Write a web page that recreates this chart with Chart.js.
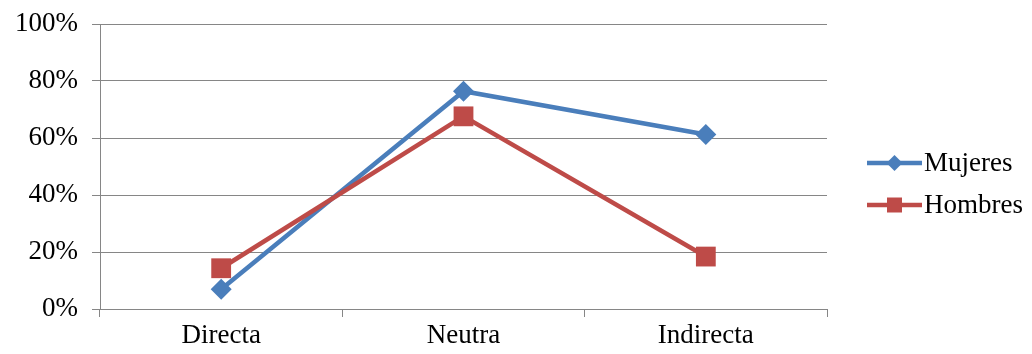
<!DOCTYPE html>
<html>
<head>
<meta charset="utf-8">
<script src="https://cdn.jsdelivr.net/npm/chart.js@4/dist/chart.umd.min.js"></script>
<style>
  html, body { margin: 0; padding: 0; background: #ffffff; }
  #wrap { width: 1032px; height: 354px; position: relative; }
</style>
</head>
<body>
<div id="wrap"><canvas id="c" width="1032" height="354"></canvas></div>
<script>
// Share of each response type, in percent
const categories = ['Directa', 'Neutra', 'Indirecta'];
const mujeres = [6.9, 76.4, 61.2];
const hombres = [14.3, 67.6, 18.4];
const yTickValues = [0, 20, 40, 60, 80, 100];

const seriesNames = ['Mujeres', 'Hombres'];
const blue = '#4A7EBB';
const red = '#BE4B48';
const gridGray = '#868686';
const fontFamily = '"Liberation Serif", "Times New Roman", serif';
const fontSize = 27;

// Legend at the right: short line with the series marker, then the name
const sideLegend = {
  id: 'sideLegend',
  afterDraw(chart) {
    const ctx = chart.ctx;
    const rows = [163, 205];
    chart.data.datasets.forEach((ds, i) => {
      const y = rows[i];
      const x0 = 867, x1 = 922, xm = (x0 + x1) / 2;
      ctx.save();
      ctx.strokeStyle = ds.borderColor;
      ctx.lineWidth = 4.5;
      ctx.beginPath();
      ctx.moveTo(x0, y);
      ctx.lineTo(x1, y);
      ctx.stroke();
      ctx.fillStyle = ds.pointBackgroundColor;
      ctx.beginPath();
      if (ds.pointStyle === 'rectRot') {
        const r = 8;
        ctx.moveTo(xm - r, y);
        ctx.lineTo(xm, y - r);
        ctx.lineTo(xm + r, y);
        ctx.lineTo(xm, y + r);
        ctx.closePath();
      } else {
        const h = 7.5;
        ctx.rect(xm - h, y - h, 2 * h, 2 * h);
      }
      ctx.fill();
      ctx.fillStyle = '#000000';
      ctx.font = fontSize + 'px ' + fontFamily;
      ctx.textBaseline = 'middle';
      ctx.textAlign = 'left';
      ctx.fillText(ds.label, 924, y + 1);
      ctx.restore();
    });
  }
};

new Chart(document.getElementById('c'), {
  type: 'line',
  data: {
    labels: categories,
    datasets: [
      {
        label: seriesNames[0],
        data: mujeres,
        borderColor: blue,
        backgroundColor: blue,
        pointBackgroundColor: blue,
        pointBorderColor: blue,
        pointBorderWidth: 0,
        pointStyle: 'rectRot',
        pointRadius: 10.5,
        borderWidth: 4.5,
        tension: 0,
        order: 1
      },
      {
        label: seriesNames[1],
        data: hombres,
        borderColor: red,
        backgroundColor: red,
        pointBackgroundColor: red,
        pointBorderColor: red,
        pointBorderWidth: 0,
        pointStyle: 'rect',
        pointRadius: 14,
        borderWidth: 4.5,
        tension: 0,
        order: 0
      }
    ]
  },
  options: {
    responsive: false,
    animation: false,
    devicePixelRatio: 1,
    layout: { padding: { top: 24, right: 205, left: 0, bottom: 0 } },
    plugins: {
      legend: { display: false },
      tooltip: { enabled: false }
    },
    scales: {
      x: {
        type: 'category',
        offset: true,
        grid: {
          offset: true,
          drawOnChartArea: false,
          drawTicks: true,
          tickLength: 8,
          color: gridGray,
          lineWidth: 1
        },
        border: { color: gridGray, width: 1 },
        ticks: {
          color: '#000000',
          font: { family: fontFamily, size: fontSize },
          padding: 3,
          maxRotation: 0
        },
        afterFit(scale) { scale.height = 45; }
      },
      y: {
        min: 0,
        max: 100,
        afterBuildTicks(scale) {
          scale.ticks = yTickValues.map(v => ({ value: v }));
        },
        grid: {
          color: gridGray,
          lineWidth: 1,
          drawTicks: true,
          tickLength: 8
        },
        border: { color: gridGray, width: 1 },
        ticks: {
          color: '#000000',
          font: { family: fontFamily, size: fontSize },
          padding: 14,
          callback: v => v + '%'
        },
        afterFit(scale) {
          scale.width = 100;
          scale.paddingTop = 0;
          scale.paddingBottom = 0;
        }
      }
    }
  },
  plugins: [sideLegend]
});
</script>
</body>
</html>
